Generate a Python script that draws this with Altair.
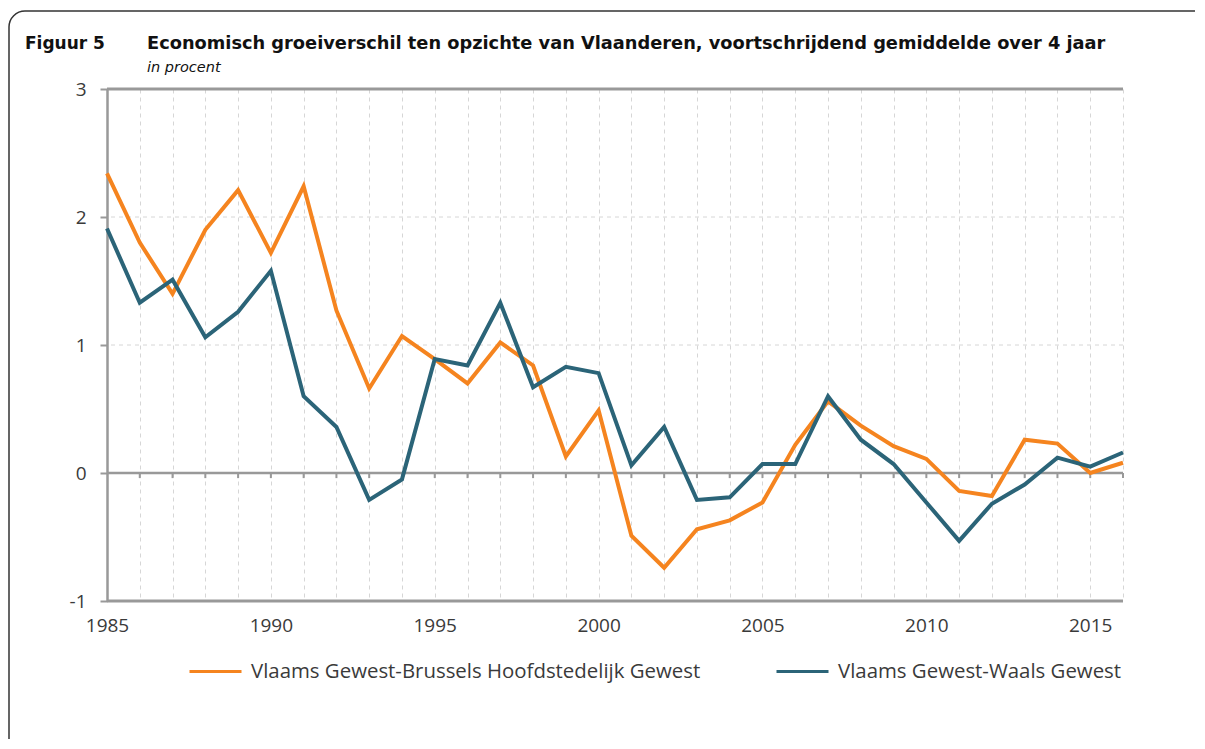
import altair as alt
import pandas as pd

years = list(range(1985, 2017))
brussels = [2.34, 1.80, 1.40, 1.90, 2.21, 1.72, 2.24, 1.27, 0.66, 1.07,
            0.89, 0.70, 1.02, 0.84, 0.13, 0.49, -0.49, -0.74, -0.44, -0.37,
            -0.23, 0.22, 0.56, 0.37, 0.21, 0.11, -0.14, -0.18, 0.26, 0.23,
            0.00, 0.08]
waals = [1.91, 1.33, 1.51, 1.06, 1.26, 1.58, 0.60, 0.36, -0.21, -0.05,
         0.89, 0.84, 1.33, 0.67, 0.83, 0.78, 0.06, 0.36, -0.21, -0.19,
         0.07, 0.07, 0.60, 0.26, 0.07, -0.23, -0.53, -0.24, -0.09, 0.12,
         0.05, 0.16]
series_names = ["Vlaams Gewest-Brussels Hoofdstedelijk Gewest",
                "Vlaams Gewest-Waals Gewest"]
series_colors = ["#f5841f", "#2b6478"]
y_ticks = [-1, 0, 1, 2, 3]
dashed_levels = [1, 2]
solid_levels = [3, 0, -1]
fig_label = "Figuur 5"
title_text = "Economisch groeiverschil ten opzichte van Vlaanderen, voortschrijdend gemiddelde over 4 jaar"
subtitle_text = "in procent"

rows = []
for name, vals in zip(series_names, [brussels, waals]):
    for yr, v in zip(years, vals):
        rows.append({"year": yr, "value": v, "series": name})
df = pd.DataFrame(rows)

xscale = alt.Scale(domain=[1985, 2016], nice=False, zero=False)
yscale = alt.Scale(domain=[-1, 3], nice=False, zero=False)

LABEL_FONT = "Open Sans"
GREY = "#999999"
TEXT = "#3a3a3a"

x_axis = alt.Axis(values=years, format="d", grid=True, gridDash=[4, 4],
                  gridColor="#d6d6d6", gridWidth=1, domain=False, ticks=False,
                  labelExpr="datum.value % 5 == 0 ? datum.label : ''",
                  labelFont=LABEL_FONT, labelFontSize=19, labelColor=TEXT,
                  labelPadding=15, labelFlush=False, title=None)
y_axis = alt.Axis(values=y_ticks, grid=False, domain=True,
                  labelExpr="'' + datum.value",
                  domainColor=GREY, domainWidth=2.5, ticks=True, tickSize=7,
                  tickColor=GREY, tickWidth=2, labelFont=LABEL_FONT,
                  labelFontSize=19, labelColor=TEXT, labelPadding=14,
                  title=None)

base = alt.Chart(df)

# decorative frame around the figure
frame = alt.Chart(pd.DataFrame({"k": [0]})).mark_rect(
    fill=None, stroke="#333333", strokeWidth=1.5, cornerRadius=16
).encode(x=alt.value(-98), x2=alt.value(1200), y=alt.value(-78), y2=alt.value(700))

dashed = alt.Chart(pd.DataFrame({"value": dashed_levels})).mark_rule(
    color="#d6d6d6", strokeWidth=1, strokeDash=[4, 4]
).encode(y=alt.Y("value:Q", scale=yscale, axis=y_axis))

solid = alt.Chart(pd.DataFrame({"value": solid_levels,
                                "w": [3, 2.5, 3]})).mark_rule(
    color=GREY
).encode(y=alt.Y("value:Q", scale=yscale),
         strokeWidth=alt.StrokeWidth("w:Q", scale=None, legend=None))

zero_ticks = alt.Chart(pd.DataFrame({"year": years[1:],
                                     "value": [0] * (len(years) - 1),
                                     "low": [-0.04] * (len(years) - 1)})).mark_rule(
    color=GREY, strokeWidth=2
).encode(x=alt.X("year:Q", scale=xscale, axis=x_axis),
         y=alt.Y("value:Q", scale=yscale), y2="low:Q")

lines = base.mark_line(strokeWidth=4).encode(
    x=alt.X("year:Q", scale=xscale, axis=x_axis),
    y=alt.Y("value:Q", scale=yscale, axis=y_axis),
    color=alt.Color("series:N",
                    scale=alt.Scale(domain=series_names, range=series_colors),
                    sort=series_names,
                    legend=alt.Legend(orient="none", legendX=81, legendY=555,
                                      direction="horizontal", title=None,
                                      symbolType="stroke", symbolSize=2704,
                                      symbolStrokeWidth=3, labelFont=LABEL_FONT,
                                      labelFontSize=20.4, labelColor=TEXT,
                                      labelOffset=8, labelLimit=700,
                                      columnPadding=69, padding=0)),
    order=alt.Order("year:Q"),
)

texts = pd.DataFrame({"t": [fig_label, title_text, subtitle_text],
                      "kind": ["fig", "title", "sub"]})

fig = alt.Chart(texts).transform_filter(alt.datum.kind == "fig").mark_text(
    font="DejaVu Sans", fontWeight="bold", fontSize=17, align="left",
    baseline="alphabetic", color="#111111"
).encode(x=alt.value(-82), y=alt.value(-40), text="t:N")

title = alt.Chart(texts).transform_filter(alt.datum.kind == "title").mark_text(
    font="DejaVu Sans", fontWeight="bold", fontSize=17.8, align="left",
    baseline="alphabetic", color="#111111"
).encode(x=alt.value(40), y=alt.value(-40), text="t:N")

subtitle = alt.Chart(texts).transform_filter(alt.datum.kind == "sub").mark_text(
    font="DejaVu Sans", fontStyle="italic", fontSize=14.5, align="left",
    baseline="alphabetic", color="#111111"
).encode(x=alt.value(40), y=alt.value(-17), text="t:N")

chart = alt.layer(frame, dashed, solid, zero_ticks, lines, fig, title,
                  subtitle).properties(
    width=1016, height=512,
    autosize=alt.AutoSizeParams(type="none"),
    padding={"left": 99, "top": 81, "right": 72, "bottom": 138},
).configure_view(stroke=None)

chart.save("out.html", embed_options={"renderer": "svg", "actions": False})
